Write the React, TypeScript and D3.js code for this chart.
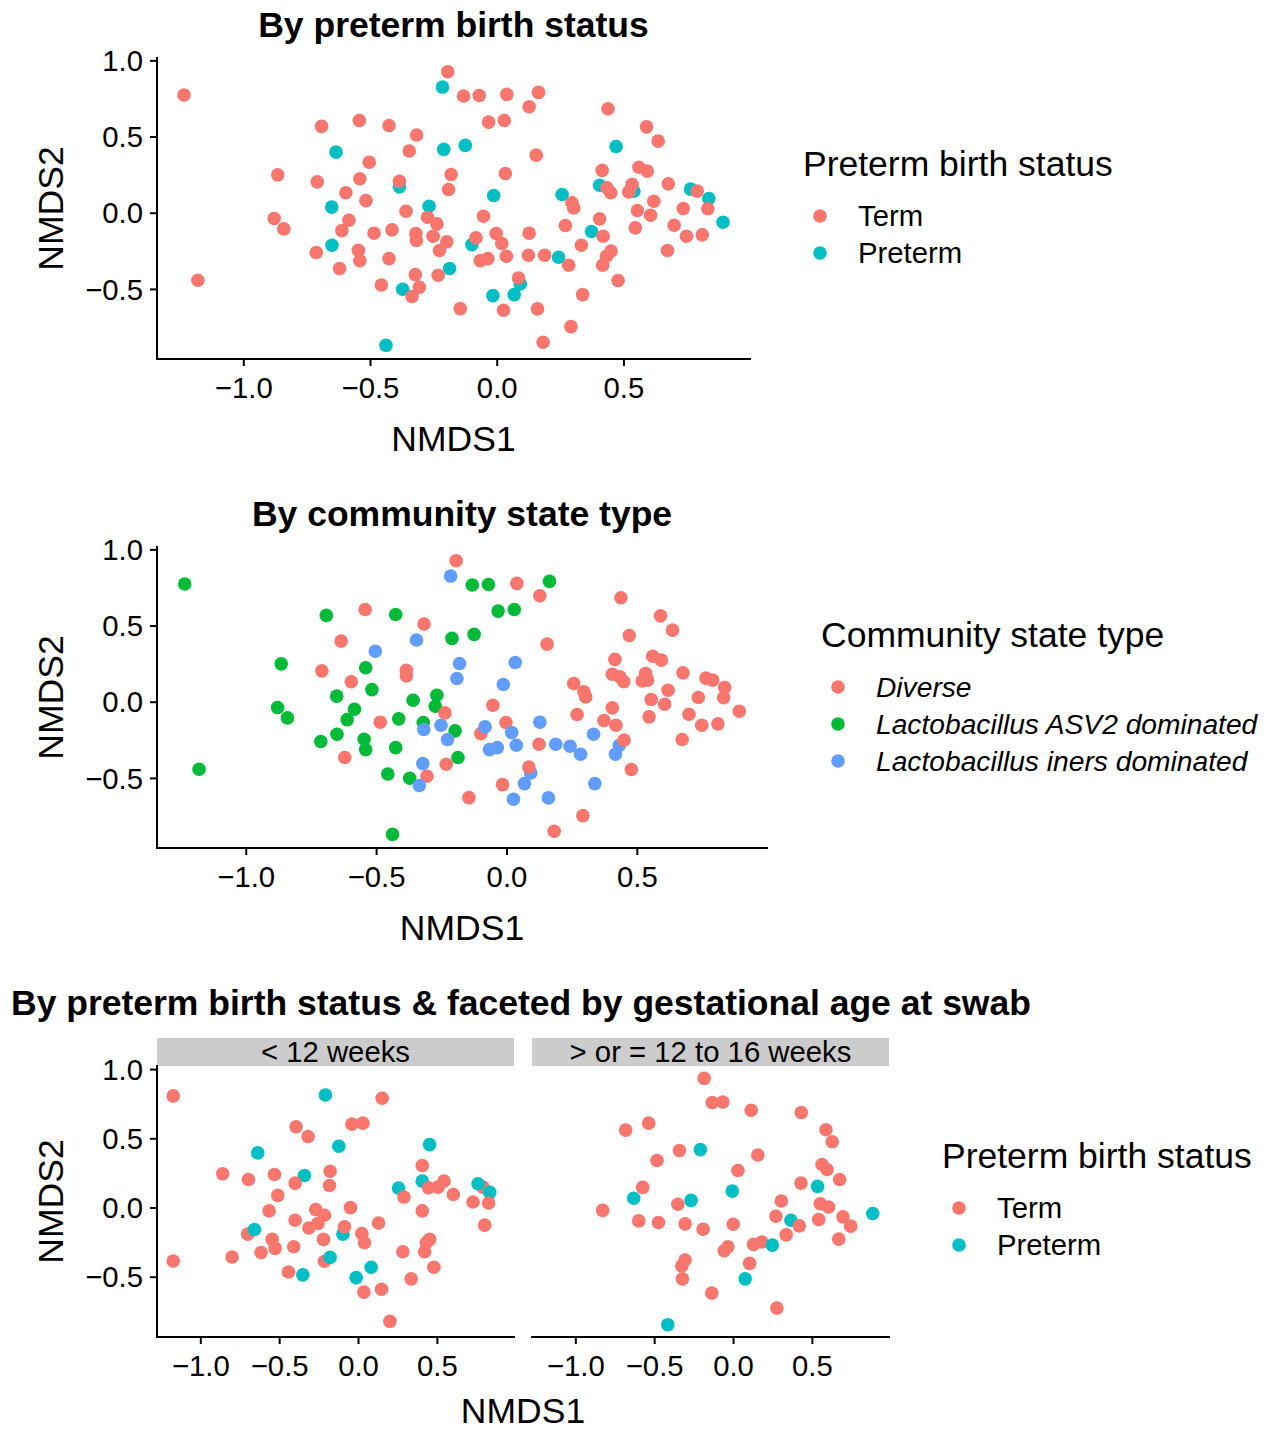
import React from 'react';
import * as d3 from 'd3';

// ---- Ordination scores shared by the first two plots ----
const nmds1 = [
  -1.236, -0.195, -0.216, -0.693, -0.544, -0.427, -0.318, -0.347, -0.636, -0.211,
  -0.505, -0.866, -0.710, -0.542, -0.386, -0.386, -0.182, -0.192, -0.597, -0.518,
  -0.653, -0.269, -0.360, -0.880, -0.842, -0.585, -0.613, -0.486, -0.415, -0.275,
  -0.238, -0.321, -0.319, -0.253, -0.199, -0.228, -0.652, -0.714, -0.548, -0.542,
  -0.427, -0.622, -0.188, -0.323, -0.233, -0.457, -0.373, -0.307, -0.336, -1.181,
  -0.439,
  -0.133, -0.071, 0.038, 0.163, 0.126, -0.034, 0.028, 0.437, 0.589, 0.635,
  -0.126, 0.469, 0.154, 0.032, 0.414, 0.559, 0.592, 0.675, 0.404, 0.433,
  0.448, 0.539, 0.532, 0.519, 0.763, 0.789, 0.835, 0.831, 0.891, 0.734,
  0.618, 0.553, 0.605, 0.545, 0.698, 0.747, 0.809, 0.672, -0.014, -0.054,
  0.256, 0.295, 0.302, 0.269, 0.404, 0.372, 0.418, -0.100, -0.084, -0.004,
  0.018, 0.126, -0.067, -0.037, 0.036, 0.123, 0.187, 0.242, 0.282, 0.332,
  0.431, 0.416, 0.449, 0.477, 0.091, 0.084, 0.067, -0.017, -0.146, 0.025,
  0.159, 0.337, 0.291, 0.181,
];
const nmds2 = [
  0.776, 0.929, 0.828, 0.570, 0.609, 0.576, 0.513, 0.408, 0.401, 0.419,
  0.335, 0.252, 0.206, 0.226, 0.173, 0.210, 0.254, 0.156, 0.134, 0.083,
  0.040, 0.046, 0.013, -0.035, -0.103, -0.046, -0.114, -0.131, -0.109, -0.026,
  -0.070, -0.133, -0.179, -0.151, -0.188, -0.245, -0.210, -0.258, -0.243, -0.311,
  -0.298, -0.363, -0.363, -0.403, -0.407, -0.471, -0.499, -0.486, -0.547, -0.440,
  -0.867,
  0.769, 0.773, 0.780, 0.793, 0.699, 0.598, 0.609, 0.686, 0.567, 0.473,
  0.445, 0.438, 0.381, 0.261, 0.281, 0.302, 0.276, 0.193, 0.184, 0.167,
  0.134, 0.145, 0.189, 0.140, 0.158, 0.145, 0.097, 0.029, -0.059, 0.031,
  0.079, 0.018, -0.013, -0.096, -0.079, -0.151, -0.142, -0.245, 0.116, -0.020,
  0.123, 0.068, 0.035, -0.081, -0.037, -0.120, -0.151, -0.206, -0.162, -0.133,
  -0.199, -0.131, -0.311, -0.298, -0.282, -0.276, -0.276, -0.289, -0.341, -0.210,
  -0.282, -0.341, -0.249, -0.442, -0.464, -0.425, -0.534, -0.541, -0.626, -0.637,
  -0.628, -0.534, -0.744, -0.847,
];
// T = Term, P = Preterm
const birthStatus = [
  'T', 'T', 'P', 'T', 'T', 'T', 'T', 'T', 'P', 'P',
  'T', 'T', 'T', 'T', 'P', 'T', 'T', 'T', 'T', 'T',
  'P', 'P', 'T', 'T', 'T', 'T', 'T', 'T', 'T', 'T',
  'T', 'T', 'T', 'T', 'T', 'T', 'P', 'T', 'T', 'T',
  'T', 'T', 'P', 'T', 'T', 'T', 'P', 'T', 'T', 'T',
  'P',
  'T', 'T', 'T', 'T', 'T', 'T', 'T', 'T', 'T', 'T',
  'P', 'P', 'T', 'T', 'T', 'T', 'T', 'T', 'P', 'T',
  'T', 'P', 'T', 'T', 'P', 'T', 'P', 'T', 'P', 'T',
  'T', 'T', 'T', 'T', 'T', 'T', 'T', 'T', 'P', 'T',
  'P', 'T', 'T', 'T', 'T', 'P', 'T', 'P', 'T', 'T',
  'T', 'T', 'T', 'T', 'T', 'T', 'T', 'P', 'T', 'T',
  'T', 'T', 'T', 'T', 'P', 'T', 'P', 'P', 'T', 'T',
  'T', 'T', 'T', 'T',
];
// D = Diverse, A = L. ASV2 dominated, I = L. iners dominated
const communityType = [
  'A', 'D', 'I', 'A', 'D', 'A', 'D', 'I', 'D', 'A',
  'I', 'A', 'D', 'A', 'D', 'D', 'I', 'I', 'D', 'A',
  'A', 'A', 'A', 'A', 'A', 'A', 'A', 'D', 'A', 'A',
  'D', 'A', 'I', 'I', 'A', 'I', 'A', 'A', 'A', 'A',
  'A', 'D', 'A', 'I', 'D', 'A', 'A', 'D', 'I', 'A',
  'A',
  'A', 'A', 'D', 'A', 'D', 'A', 'A', 'D', 'D', 'D',
  'A', 'D', 'D', 'I', 'D', 'D', 'D', 'D', 'D', 'D',
  'D', 'D', 'D', 'D', 'D', 'D', 'D', 'D', 'D', 'D',
  'D', 'D', 'D', 'D', 'D', 'D', 'D', 'D', 'I', 'D',
  'D', 'D', 'D', 'D', 'D', 'D', 'D', 'D', 'I', 'D',
  'I', 'I', 'I', 'I', 'I', 'D', 'I', 'I', 'I', 'I',
  'I', 'I', 'D', 'D', 'I', 'D', 'I', 'D', 'D', 'I',
  'I', 'I', 'D', 'D',
];

// ---- Ordination scores for the faceted plot ----
const under12Nmds1 = [
  -1.175, -0.210, 0.150, -0.042, 0.028, -0.396, -0.320, -0.125, 0.451, -0.639,
  -0.861, -0.698, -0.533, -0.343, -0.402, -0.180, -0.184, -0.512, 0.404, 0.404,
  0.254, 0.288, 0.444, 0.504, 0.542, 0.601, 0.789, 0.758, 0.832, 0.726,
  0.825, 0.800, 0.404, -0.567, -0.271, -0.216, -0.258, -0.315, -0.402, -0.051,
  -0.099, -0.089, 0.127, 0.021, 0.038, -0.222, -0.703, -0.660, -0.548, -0.529,
  -0.411, -0.618, -0.802, -1.175, -0.216, -0.180, -0.444, -0.353, -0.015, 0.080,
  0.034, 0.146, 0.281, 0.419, 0.430, 0.451, 0.478, 0.334, 0.199,
];
const under12Nmds2 = [
  0.810, 0.817, 0.793, 0.606, 0.613, 0.587, 0.517, 0.446, 0.458, 0.398,
  0.247, 0.206, 0.242, 0.235, 0.180, 0.266, 0.163, 0.091, 0.307, 0.194,
  0.144, 0.079, 0.146, 0.151, 0.194, 0.098, 0.151, 0.175, 0.113, 0.043,
  0.036, -0.124, -0.021, -0.021, -0.012, -0.052, -0.112, -0.144, -0.088, 0.003,
  -0.189, -0.136, -0.108, -0.184, -0.251, -0.227, -0.189, -0.155, -0.227, -0.292,
  -0.280, -0.321, -0.354, -0.383, -0.385, -0.357, -0.462, -0.483, -0.503, -0.428,
  -0.608, -0.587, -0.316, -0.316, -0.251, -0.227, -0.428, -0.512, -0.819,
];
const under12Status = [
  'T', 'P', 'T', 'T', 'T', 'T', 'T', 'P', 'P', 'P',
  'T', 'T', 'T', 'P', 'T', 'T', 'T', 'T', 'T', 'P',
  'P', 'T', 'T', 'T', 'T', 'T', 'T', 'P', 'P', 'T',
  'T', 'T', 'T', 'T', 'T', 'T', 'T', 'T', 'T', 'T',
  'P', 'T', 'T', 'T', 'T', 'T', 'T', 'P', 'T', 'T',
  'T', 'T', 'T', 'T', 'T', 'P', 'T', 'P', 'P', 'P',
  'T', 'T', 'T', 'T', 'T', 'T', 'T', 'T', 'T',
];
const from12to16Nmds1 = [
  -0.186, -0.135, -0.068, 0.112, 0.430, -0.684, -0.538, 0.586, 0.626, -0.343,
  -0.210, 0.154, -0.485, 0.028, 0.561, 0.593, 0.673, 0.428, 0.533, -0.576,
  -0.633, -0.353, -0.269, -0.008, 0.303, -0.830, 0.550, 0.603, 0.269, 0.364,
  0.417, 0.540, 0.694, 0.743, 0.883, 0.667, -0.601, -0.476, -0.307, -0.193,
  -0.002, 0.334, 0.127, 0.180, 0.246, -0.036, -0.059, -0.307, -0.328, -0.324,
  0.102, 0.074, -0.138, 0.275, -0.417,
];
const from12to16Nmds2 = [
  0.937, 0.762, 0.766, 0.706, 0.690, 0.563, 0.613, 0.565, 0.479, 0.415,
  0.422, 0.383, 0.343, 0.271, 0.314, 0.278, 0.206, 0.180, 0.156, 0.149,
  0.070, 0.027, 0.055, 0.122, 0.051, -0.017, 0.031, 0.007, -0.060, -0.088,
  -0.129, -0.083, -0.064, -0.131, -0.040, -0.225, -0.093, -0.105, -0.115, -0.153,
  -0.117, -0.194, -0.263, -0.246, -0.268, -0.280, -0.309, -0.376, -0.419, -0.512,
  -0.400, -0.512, -0.615, -0.723, -0.843,
];
const from12to16Status = [
  'T', 'T', 'T', 'T', 'T', 'T', 'T', 'T', 'T', 'T',
  'P', 'T', 'T', 'T', 'T', 'T', 'T', 'T', 'P', 'T',
  'P', 'T', 'P', 'P', 'T', 'T', 'T', 'T', 'T', 'P',
  'T', 'T', 'T', 'T', 'P', 'T', 'T', 'T', 'T', 'T',
  'T', 'T', 'T', 'T', 'P', 'T', 'T', 'T', 'T', 'T',
  'T', 'P', 'T', 'T', 'P',
];

const statusCodes = ['T', 'P'];
const statusLabels = ['Term', 'Preterm'];
const statusColors = ['#F8766D', '#00BFC4'];
const cstCodes = ['D', 'A', 'I'];
const cstLabels = ['Diverse', 'Lactobacillus ASV2 dominated', 'Lactobacillus iners dominated'];
const cstColors = ['#F8766D', '#00BA38', '#619CFF'];
const facetLabels = ['< 12 weeks', '> or = 12 to 16 weeks'];
const xTicks = [-1.0, -0.5, 0.0, 0.5];
const yTicks = [-0.5, 0.0, 0.5, 1.0];

const FONT = '"Liberation Sans", Arial, Helvetica, sans-serif';
const SMALL = 29.3;
const LARGE = 35.5;
const R = 6.8;
const LW = 2;
const TICK = 7;
const fmt = d3.format('.1f');

const statusColor = d3.scaleOrdinal<string, string>().domain(statusCodes).range(statusColors);
const cstColor = d3.scaleOrdinal<string, string>().domain(cstCodes).range(cstColors);

function expanded(vals: number[]): [number, number] {
  const [lo, hi] = d3.extent(vals) as [number, number];
  const pad = (hi - lo) * 0.05;
  return [lo - pad, hi + pad];
}

type Lin = d3.ScaleLinear<number, number>;

function XAxis({ x, y }: { x: Lin; y: number }) {
  const [a, b] = x.range();
  return (
    <g>
      <line x1={a} x2={b} y1={y} y2={y} stroke="#000" strokeWidth={LW} strokeLinecap="square" />
      {xTicks.map((t) => (
        <g key={t}>
          <line x1={x(t)} x2={x(t)} y1={y} y2={y + TICK} stroke="#000" strokeWidth={LW} />
          <text x={x(t)} y={y + 39} textAnchor="middle" fontSize={SMALL}>{fmt(t)}</text>
        </g>
      ))}
    </g>
  );
}

function YAxis({ y, x }: { y: Lin; x: number }) {
  const [a, b] = y.range();
  return (
    <g>
      <line x1={x} x2={x} y1={a} y2={b} stroke="#000" strokeWidth={LW} strokeLinecap="square" />
      {yTicks.map((t) => (
        <g key={t}>
          <line x1={x - TICK} x2={x} y1={y(t)} y2={y(t)} stroke="#000" strokeWidth={LW} />
          <text x={x - 14} y={y(t)} dy="0.35em" textAnchor="end" fontSize={SMALL}>{fmt(t)}</text>
        </g>
      ))}
    </g>
  );
}

function Legend({ x, y, title, labels, colors, italic }: {
  x: number; y: number; title: string; labels: string[]; colors: string[]; italic?: boolean;
}) {
  return (
    <g>
      <text x={x} y={y} fontSize={LARGE}>{title}</text>
      {labels.map((l, i) => (
        <g key={l}>
          <circle cx={x + 17} cy={y + 40 + i * 37} r={R} fill={colors[i]} />
          <text x={x + 55} y={y + 40 + i * 37} dy="0.35em" fontSize={italic ? 28.2 : SMALL}
            fontStyle={italic ? 'italic' : 'normal'}>{l}</text>
        </g>
      ))}
    </g>
  );
}

function ScatterPanel({ left, right, top, bottom, title, colorOf }: {
  left: number; right: number; top: number; bottom: number; title: string;
  colorOf: (i: number) => string;
}) {
  const x = d3.scaleLinear().domain(expanded(nmds1)).range([left, right]);
  const y = d3.scaleLinear().domain(expanded(nmds2)).range([bottom, top]);
  const cx = (left + right) / 2;
  return (
    <g>
      <text x={cx} y={top - 21} textAnchor="middle" fontSize={LARGE} fontWeight="bold">{title}</text>
      {nmds1.map((v, i) => (
        <circle key={i} cx={x(v)} cy={y(nmds2[i])} r={R} fill={colorOf(i)} />
      ))}
      <XAxis x={x} y={bottom} />
      <YAxis y={y} x={left} />
      <text x={cx} y={bottom + 92} textAnchor="middle" fontSize={LARGE}>NMDS1</text>
      <text transform={`translate(63,${(top + bottom) / 2}) rotate(-90)`} textAnchor="middle" fontSize={LARGE}>NMDS2</text>
    </g>
  );
}

function FacetPanel() {
  const top = 1066;
  const bottom = 1337;
  const panels = [
    { left: 157, right: 514, xs: under12Nmds1, ys: under12Nmds2, st: under12Status },
    { left: 532, right: 889, xs: from12to16Nmds1, ys: from12to16Nmds2, st: from12to16Status },
  ];
  const xDom = expanded([...under12Nmds1, ...from12to16Nmds1]);
  const yDom = expanded([...under12Nmds2, ...from12to16Nmds2]);
  const y = d3.scaleLinear().domain(yDom).range([bottom, top]);
  return (
    <g>
      <text x={11} y={1015} fontSize={LARGE} fontWeight="bold">
        By preterm birth status &amp; faceted by gestational age at swab
      </text>
      {panels.map((p, k) => {
        const x = d3.scaleLinear().domain(xDom).range([p.left, p.right]);
        return (
          <g key={k}>
            <rect x={p.left} y={1038} width={p.right - p.left} height={top - 1038} fill="#CCCCCC" />
            <text x={(p.left + p.right) / 2} y={1062} textAnchor="middle" fontSize={SMALL}>{facetLabels[k]}</text>
            {p.xs.map((v, i) => (
              <circle key={i} cx={x(v)} cy={y(p.ys[i])} r={R} fill={statusColor(p.st[i])} />
            ))}
            <XAxis x={x} y={bottom} />
          </g>
        );
      })}
      <YAxis y={y} x={157} />
      <text x={(157 + 889) / 2} y={1423} textAnchor="middle" fontSize={LARGE}>NMDS1</text>
      <text transform={`translate(63,${(top + bottom) / 2}) rotate(-90)`} textAnchor="middle" fontSize={LARGE}>NMDS2</text>
      <Legend x={942} y={1168} title="Preterm birth status" labels={statusLabels} colors={statusColors} />
    </g>
  );
}

export default function App() {
  return (
    <svg width={1271} height={1431} style={{ position: 'absolute', left: 0, top: 0, background: '#fff' }}
      fontFamily={FONT} fill="#000">
      <rect x={0} y={0} width={1271} height={1431} fill="#fff" />
      <ScatterPanel left={157} right={750} top={58} bottom={359} title="By preterm birth status"
        colorOf={(i) => statusColor(birthStatus[i])} />
      <Legend x={803} y={176} title="Preterm birth status" labels={statusLabels} colors={statusColors} />
      <ScatterPanel left={157} right={767} top={547} bottom={848} title="By community state type"
        colorOf={(i) => cstColor(communityType[i])} />
      <Legend x={821} y={647} title="Community state type" labels={cstLabels} colors={cstColors} italic />
      <FacetPanel />
    </svg>
  );
}
